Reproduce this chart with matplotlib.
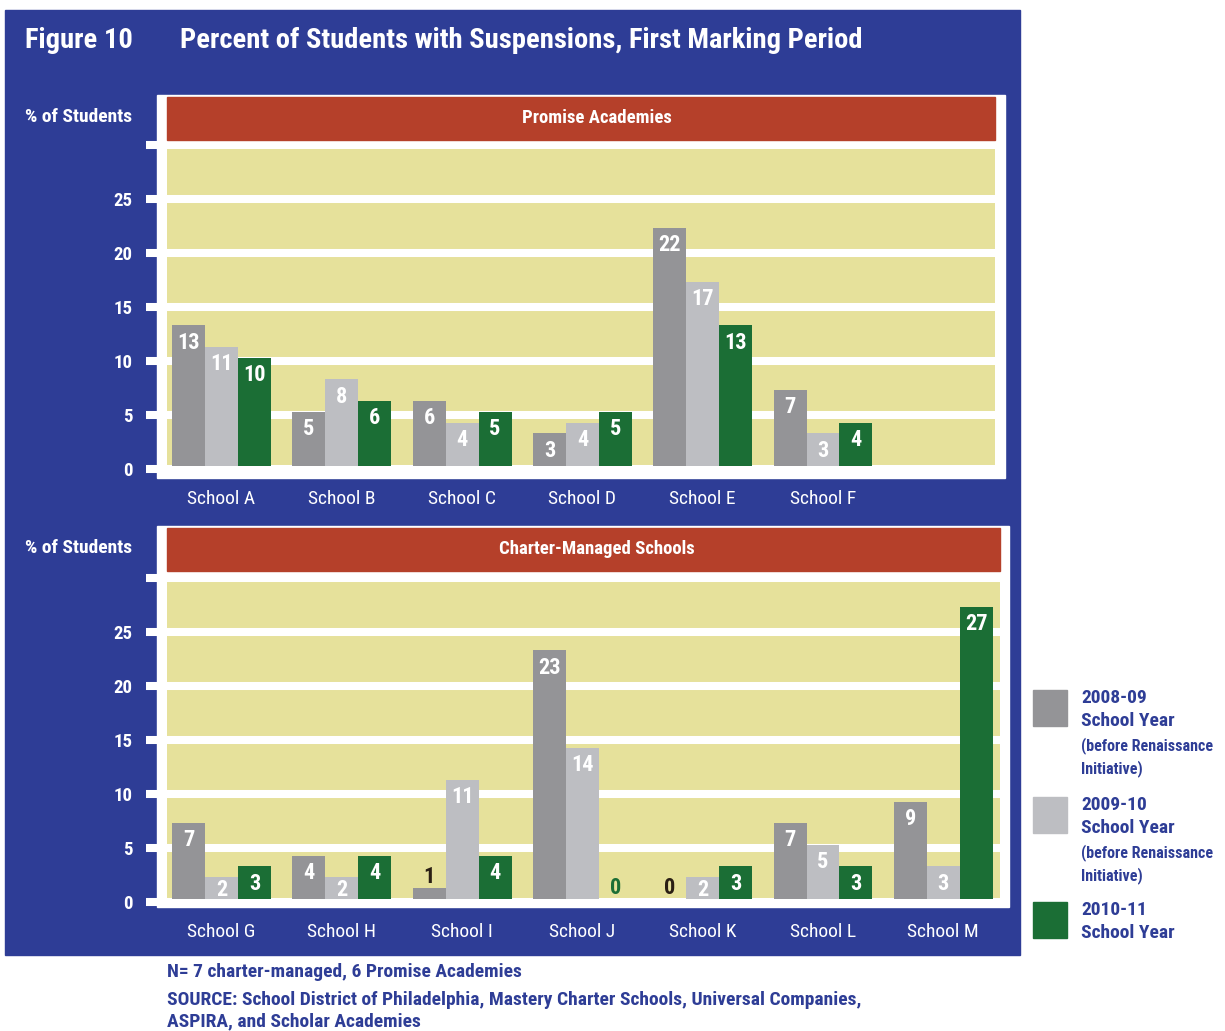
import matplotlib
matplotlib.use("Agg")
import matplotlib.pyplot as plt
from matplotlib import font_manager as fm
from matplotlib.patches import Rectangle
import numpy as np


def _wnum(w):
    if isinstance(w, str):
        return fm.weight_dict.get(w, 400)
    return w


# pick a narrow / condensed face that has a bold weight, if one is installed
_fonts = fm.fontManager.ttflist
_narrow = {}
for f in _fonts:
    st = str(f.stretch)
    if "Narrow" in f.name or "Condensed" in f.name or st in ("condensed", "semi-condensed"):
        _narrow.setdefault(f.name, []).append((_wnum(f.weight), st))
_prefer = ["Liberation Sans Narrow", "Roboto Condensed", "Open Sans Condensed",
           "DejaVu Sans Condensed", "Noto Sans Condensed"]
FONT, STRETCH = "DejaVu Sans", "normal"
_bold_ok = [n for n, v in _narrow.items() if any(w >= 600 for w, _ in v)]
_order = [n for n in _prefer if n in _bold_ok] + sorted(n for n in _bold_ok if n not in _prefer)
if _order:
    FONT = _order[0]
    if not ("Narrow" in FONT or "Condensed" in FONT):
        STRETCH = "condensed"
plt.rcParams['font.family'] = [FONT, 'DejaVu Sans']
plt.rcParams['font.stretch'] = STRETCH

W, H = 1225, 1031

# data
promise_schools = ["School A", "School B", "School C", "School D", "School E", "School F"]
promise_0809 = [13, 5, 6, 3, 22, 7]
promise_0910 = [11, 8, 4, 4, 17, 3]
promise_1011 = [10, 6, 5, 5, 13, 4]

charter_schools = ["School G", "School H", "School I", "School J", "School K", "School L", "School M"]
charter_0809 = [7, 4, 1, 23, 0, 7, 9]
charter_0910 = [2, 2, 11, 14, 2, 5, 3]
charter_1011 = [3, 4, 4, 0, 3, 3, 27]

series_names = ["2008-09", "2009-10", "2010-11"]

# colours
BLUE = "#2e3d96"
RED = "#b5402a"
KHAKI = "#e6e19b"
GREY_D = "#949497"
GREY_L = "#bdbec2"
GREEN = "#1b6e35"
DARK = "#2a1f14"
bar_colors = [GREY_D, GREY_L, GREEN]
above_colors = [DARK, DARK, GREEN]


def fx(x):
    return x / W


def fy(y):
    return 1 - y / H


def prect(fig, x0, y0, x1, y1, color, z=0):
    fig.patches.append(Rectangle((fx(x0), fy(y1)), (x1 - x0) / W, (y1 - y0) / H,
                                 transform=fig.transFigure, color=color, zorder=z))


fig = plt.figure(figsize=(W / 100, H / 100), dpi=100, facecolor="white")

# blue backdrop
prect(fig, 5, 10, 1020, 955, BLUE)

fig.text(fx(25), fy(41), "Figure 10", color="white", fontsize=20.5, fontweight="bold", va="center")
fig.text(fx(180), fy(41), "Percent of Students with Suspensions, First Marking Period",
         color="white", fontsize=20.5, fontweight="bold", va="center")


def draw_panel(title, schools, series, frame, axes_px):
    fl, ft, fr, fb = frame
    al, ab, ar = axes_px
    prect(fig, fl, ft, fr, fb, "white", z=0.5)
    prect(fig, al, ft + 2, ar, ft + 45, RED, z=1)
    fig.text(fx(597), fy(ft + 23), title, color="white", fontsize=13.5,
             fontweight="bold", ha="center", va="center", zorder=3)
    fig.text(fx(25), fy(ft + 22), "% of Students", color="white", fontsize=14,
             fontweight="bold", va="center")

    ppu = 54 / 5.0  # pixels per percent
    ax = fig.add_axes([fx(al), fy(ab), (ar - al) / W, 30 * ppu / H])
    ax.set_zorder(2)
    ax.set_facecolor(KHAKI)
    slot = 120.3
    ax.set_xlim((al - 221.5) / slot, (ar - 221.5) / slot)
    ax.set_ylim(0, 30)
    for s in ax.spines.values():
        s.set_visible(False)

    ax.set_yticks(range(0, 31, 5))
    ax.set_yticklabels(["0", "5", "10", "15", "20", "25", ""], fontweight="bold")
    ax.tick_params(axis="y", direction="out", length=15, width=5.8, color="white",
                   labelcolor="white", labelsize=13.5, pad=10)
    ax.yaxis.grid(True, color="white", linewidth=5.8)
    ax.set_axisbelow(True)

    x = np.arange(len(schools))
    ax.set_xticks(x)
    ax.set_xticklabels(schools, color="white", fontsize=14)
    ax.tick_params(axis="x", length=0, pad=15)

    bw = 0.274
    base = 0.3
    for k, vals in enumerate(series):
        xs = x + (k - 1) * bw
        ax.bar(xs, vals, width=bw, bottom=base, color=bar_colors[k], zorder=3)
        for xi, v in zip(xs, vals):
            top = v + base
            if v >= 2:
                ax.text(xi, max(top - 1.6, top / 2), str(v), color="white", fontsize=16,
                        fontweight="bold", ha="center", va="center", zorder=4)
            else:
                ax.text(xi, top + 1.0, str(v), color=above_colors[k], fontsize=16,
                        fontweight="bold", ha="center", va="center", zorder=4)
    return ax


draw_panel("Promise Academies", promise_schools,
           [promise_0809, promise_0910, promise_1011],
           (157, 95, 1005, 478), (167, 469, 995))
draw_panel("Charter-Managed Schools", charter_schools,
           [charter_0809, charter_0910, charter_1011],
           (157, 526, 1009, 907), (167, 902, 1000))

# legend
legend_rows = [
    (690, GREY_D, ["2008-09", "School Year"], ["(before Renaissance", "Initiative)"]),
    (797, GREY_L, ["2009-10", "School Year"], ["(before Renaissance", "Initiative)"]),
    (902, GREEN, ["2010-11", "School Year"], []),
]
for (y0, col, big, small), name in zip(legend_rows, series_names):
    prect(fig, 1033, y0, 1067, y0 + 36, col, z=1)
    yy = y0 + 8
    for line in big:
        fig.text(fx(1081), fy(yy), line, color=BLUE, fontsize=14, fontweight="bold", va="center")
        yy += 23
    yy += 2
    for line in small:
        fig.text(fx(1081), fy(yy), line, color=BLUE, fontsize=11.5, fontweight="bold", va="center")
        yy += 23

# footnotes
fig.text(fx(167), fy(972), "N= 7 charter-managed, 6 Promise Academies", color=BLUE,
         fontsize=14, fontweight="bold", va="center")
fig.text(fx(167), fy(1000), "SOURCE: School District of Philadelphia, Mastery Charter Schools, Universal Companies,",
         color=BLUE, fontsize=14, fontweight="bold", va="center")
fig.text(fx(167), fy(1021), "ASPIRA, and Scholar Academies", color=BLUE,
         fontsize=14, fontweight="bold", va="center")

fig.savefig("out.png", dpi=100, facecolor="white")
